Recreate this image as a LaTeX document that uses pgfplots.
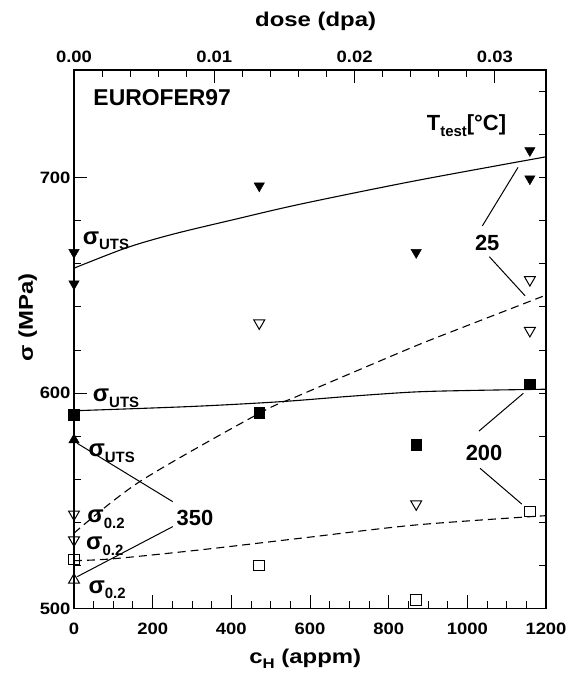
\documentclass[border=0pt]{standalone}
\usepackage{fontspec}
\setmainfont{Liberation Sans}
\newfontfamily\ticksf{Liberation Sans}[FakeStretch=1.12]
\newfontfamily\labsf{Liberation Sans}[FakeStretch=1.2]
\usepackage{pgfplots}
\pgfplotsset{compat=1.18}

% fonts used in the figure
\newcommand{\tickfont}{\ticksf\bfseries\fontsize{16.5}{16.5}\selectfont}
\newcommand{\labfont}{\labsf\bfseries\fontsize{20}{20}\selectfont}
\newcommand{\annfont}{\bfseries\fontsize{22}{22}\selectfont}
% sigma with a lowered subscript
\newcommand{\sig}[1]{{\bfseries\fontsize{24}{24}\selectfont σ}\raisebox{-5.5bp}{\bfseries\fontsize{15}{15}\selectfont #1}}

\pgfplotsset{
  common/.style={
    scale only axis, width=472bp, height=538.5bp,
    ymin=500, ymax=750,
    tick align=inside,
    tick style={line width=1bp, black},
    tick label style={font=\tickfont},
    /pgf/number format/assume math mode=true,
    /pgf/number format/1000 sep={},
    clip=false,
  },
}

\begin{document}
\begin{tikzpicture}
\path[use as bounding box] (-74bp,-64.5bp) rectangle (502bp,608.5bp);

% bottom axis: hydrogen content
\begin{axis}[common,
  xmin=0, xmax=1200,
  xtick={0,200,...,1200}, minor x tick num=3,
  ytick={500,600,700}, minor y tick num=4,
  xtick pos=left, ytick pos=left,
  major tick length=13bp, minor tick length=7bp,
  axis line style={line width=1.2bp},
  xlabel={c\raisebox{-5bp}{\fontsize{14}{14}\selectfont H} (appm)},
  xlabel style={font=\labfont, at={(axis description cs:0.49,-0.1018)}, anchor=base},
  ylabel={σ (MPa)},
  ylabel style={font=\labfont, at={(axis description cs:-0.098,0.54)}, anchor=center},
  xticklabel style={yshift=-11bp},
]
% fitted trends
\addplot[line width=1.1bp, smooth] coordinates {
  (0,658.0) (134,667.5) (252,673.8) (405,680.5) (575,687.7) (863,698.4) (1200,709.7)};
\addplot[line width=1.1bp, smooth, dash pattern=on 8bp off 5bp] coordinates {
  (0,535.0) (168,559.0) (471,590.6) (575,599.1) (854,620.8) (981,630.0) (1200,645.5)};
\addplot[line width=1.1bp, smooth] coordinates {
  (0,591.8) (300,593.8) (524,596.0) (700,598.5) (863,600.5) (1000,601.2) (1200,601.8)};
\addplot[line width=1.1bp, smooth, dash pattern=on 8bp off 5bp] coordinates {
  (0,522.2) (100,523.1) (320,527.2) (575,532.6) (870,538.8) (1200,543.1)};

% 25 C
\addplot[only marks, mark=triangle*, mark size=6bp, mark options={rotate=180, fill=black, draw=black}] coordinates {
  (0,665.3) (0,650.7) (471,696.2) (870,665.3) (1159,712.6) (1159,699.5)};
\addplot[only marks, mark=triangle, mark size=6.3bp, mark options={rotate=180, line width=1bp, draw=black}] coordinates {
  (0,543.8) (0,531.8) (471,632.5) (870,548.5) (1159,652.6) (1159,629.0)};
% 200 C
\addplot[only marks, mark=square*, mark size=5.3bp, mark options={fill=black, draw=black}] coordinates {
  (0,589.9) (471,591.0) (870,576.0) (1159,604.1)};
\addplot[only marks, mark=square, mark size=5.3bp, mark options={line width=1bp, draw=black}] coordinates {
  (0,522.8) (471,519.9) (870,504.0) (1159,545.0)};
% 350 C
\addplot[only marks, mark=triangle*, mark size=6bp, mark options={fill=black, draw=black}] coordinates {
  (0,578.3)};
\addplot[only marks, mark=triangle, mark size=6.3bp, mark options={line width=1bp, draw=black}] coordinates {
  (0,513.2)};

% labels
\node[anchor=west, inner sep=0, font=\bfseries\fontsize{23}{23}\selectfont] at (axis cs:49,737.2) {EUROFER97};
\node[anchor=base west, inner sep=0] at (axis cs:896.7,722.1)
  {{\annfont T}\raisebox{-6.5bp}{\bfseries\fontsize{15}{15}\selectfont test}{\annfont[°C]}};

\node[anchor=base west, inner sep=0] at (axis cs:22,669.2) {\sig{UTS}};
\node[anchor=base west, inner sep=0] at (axis cs:47.5,596.0) {\sig{UTS}};
\node[anchor=base west, inner sep=0] at (axis cs:36.4,570.5) {\sig{UTS}};
\node[anchor=base west, inner sep=0] at (axis cs:33.8,539.8) {\sig{0.2}};
\node[anchor=base west, inner sep=0] at (axis cs:30.5,527.2) {\sig{0.2}};
\node[anchor=base west, inner sep=0] at (axis cs:36.4,507.1) {\sig{0.2}};

\node[font=\annfont, inner sep=0] at (axis cs:1050.6,669.8) {25};
\draw[line width=1bp] (axis cs:1038.1,677.6) -- (axis cs:1128.9,704.8);
\draw[line width=1bp] (axis cs:1056,663.3) -- (axis cs:1146.7,645.2);

\node[font=\annfont, inner sep=0] at (axis cs:1042.5,572.1) {200};
\draw[line width=1bp] (axis cs:1029.7,582.4) -- (axis cs:1142.4,599.9);
\draw[line width=1bp] (axis cs:1032.3,565.1) -- (axis cs:1138.3,548.5);

\node[font=\annfont, inner sep=0] at (axis cs:307.7,542.2) {350};
\draw[line width=1bp] (axis cs:8,576.7) -- (axis cs:251,549.6);
\draw[line width=1bp] (axis cs:251,538.0) -- (axis cs:8.4,514.8);
\end{axis}

% top axis: displacement dose
\begin{axis}[common,
  xmin=0, xmax=0.033642,
  xtick={0,0.01,0.02,0.03}, minor x tick num=4,
  scaled x ticks=false,
  ytick=\empty,
  xtick pos=right, xticklabel pos=right,
  major tick length=13bp, minor tick length=7bp,
  axis line style={draw=none},
  xticklabel style={/pgf/number format/fixed, /pgf/number format/fixed zerofill, /pgf/number format/precision=2, yshift=4bp},
  xlabel={dose (dpa)},
  xlabel style={font=\labfont, at={(axis description cs:0.512,1.0804)}, anchor=base},
]
\end{axis}

% right-hand ticks
\begin{axis}[common,
  xmin=0, xmax=1200,
  xtick=\empty,
  ytick={500,520,...,740},
  ytick pos=right, yticklabels={},
  major tick length=7bp,
  axis line style={draw=none},
]
\end{axis}
\end{tikzpicture}
\end{document}
